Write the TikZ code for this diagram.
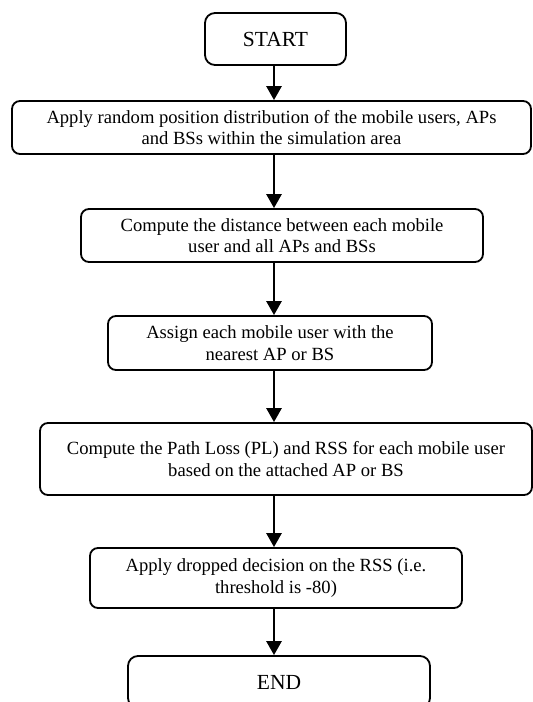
\documentclass[tikz,border=0pt]{standalone}
\usepackage{fontspec}
\setmainfont{Liberation Serif}
\usetikzlibrary{arrows.meta}
\begin{document}
\begin{tikzpicture}[x=1pt, y=-1pt, >={Triangle[width=15pt,length=14pt]},
        blocco/.style={draw, line width=1.8pt, rounded corners=8pt, align=center,
            inner sep=0pt, font=\fontsize{18.6}{21.6}\selectfont},
        estremo/.style={blocco, rounded corners=10pt, font=\fontsize{21.5}{24}\selectfont},
        freccia/.style={->, line width=2.7pt}]
    % Area
    \useasboundingbox (0,0) rectangle (533,702);
    \clip (0,0) rectangle (533,702);

    % Blocchi
    \node[estremo, minimum width=141pt, minimum height=52pt] (start) at (275.5,39) {START};
    \node[blocco, minimum width=519pt, minimum height=53pt] (pos) at (271.5,127.5)
        {Apply random position distribution of the mobile users, APs\\ and BSs within the simulation area};
    \node[blocco, minimum width=402pt, minimum height=53pt] (dist) at (282,235.5)
        {Compute the distance between each mobile\\ user and all APs and BSs};
    \node[blocco, minimum width=324pt, minimum height=54pt] (assign) at (270,343)
        {Assign each mobile user with the\\ nearest AP or BS};
    \node[blocco, minimum width=492pt, minimum height=72pt] (pl) at (286,459)
        {Compute the Path Loss (PL) and RSS for each mobile user\\ based on the attached AP or BS};
    \node[blocco, minimum width=372pt, minimum height=60pt] (drop) at (276,578)
        {Apply dropped decision on the RSS (i.e.\\ threshold is -80)};
    \node[estremo, minimum width=302pt, minimum height=52pt] (end) at (279,682) {END};

    % Frecce
    \coordinate (asse) at (274,0);
    \draw[freccia] (start.south -| asse) -- (pos.north -| asse);
    \draw[freccia] (pos.south -| asse) -- (dist.north -| asse);
    \draw[freccia] (dist.south -| asse) -- (assign.north -| asse);
    \draw[freccia] (assign.south -| asse) -- (pl.north -| asse);
    \draw[freccia] (pl.south -| asse) -- (drop.north -| asse);
    \draw[freccia] (drop.south -| asse) -- (end.north -| asse);
\end{tikzpicture}
\end{document}
